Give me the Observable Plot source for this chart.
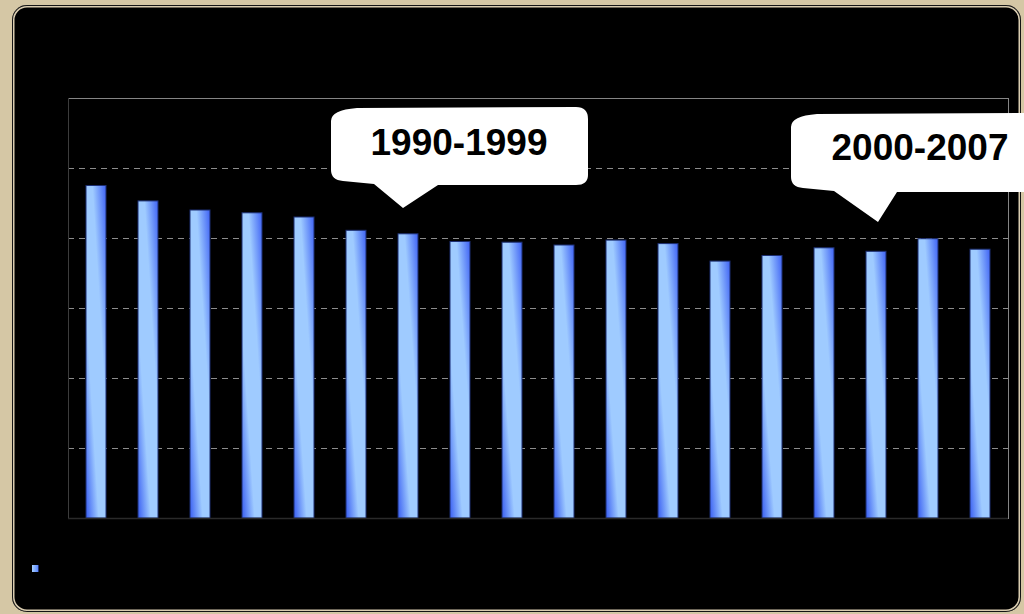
<!DOCTYPE html>
<html><head><meta charset="utf-8">
<script src="https://cdn.jsdelivr.net/npm/d3@7"></script>
<script src="https://cdn.jsdelivr.net/npm/@observablehq/plot@0.6"></script>
<style>
body{margin:0;background:#d5c7a5;width:1024px;height:614px;overflow:hidden;position:relative;font-family:"Liberation Sans",Arial,sans-serif}
#panel{position:absolute;left:12px;top:5px;width:1009px;height:607px;background:#000;border-radius:15px;box-shadow:inset 0 0 0 1px #151515, inset 0 0 0 2.5px #d9ccb0;}
#chart{position:absolute;left:0;top:0}
#legend{position:absolute;left:32px;top:565px;width:6px;height:7px;background:linear-gradient(90deg,#a6d0ff,#5a86ff);border-right:1px solid #1d2f73}
</style></head><body>
<div id="panel"></div><div id="chart"></div><div id="legend"></div>
<script>
const years = [1990,1991,1992,1993,1994,1995,1996,1997,1998,1999,2000,2001,2002,2003,2004,2005,2006,2007];
const values = [47.5,45.3,44.0,43.6,43.0,41.1,40.6,39.5,39.4,39.0,39.7,39.2,36.7,37.5,38.6,38.1,39.9,38.4];
const gridTicks = [10,20,30,40,50];
const calloutLabels = ["1990-1999","2000-2007"];
const calloutYears = [1996,2005];
const calloutValues = [44.3,42.3];

const data = years.map((year,i)=>({year, value: values[i]}));

const plot = Plot.plot({
  width:1024, height:614,
  marginLeft:68, marginRight:16, marginTop:98, marginBottom:96,
  style:{background:"transparent"},
  x:{type:"band", domain:years, paddingInner:0.62, paddingOuter:0.31, axis:null},
  y:{domain:[0,60], axis:null},
  marks:[
    Plot.ruleY(gridTicks,{stroke:"#8c8c8c", strokeDasharray:"6,5", strokeWidth:1}),
    Plot.frame({stroke:"#858585"}),
    Plot.barY(data,{x:"year", y:"value", fill:"url(#barGrad)", stroke:"#1d2f73", strokeWidth:1}),
    Plot.ruleY([0],{stroke:"#2a2a2a", strokeWidth:1.5})
  ]
});
document.getElementById("chart").appendChild(plot);

const svg = d3.select(plot);
svg.insert("defs",":first-child").html(`
  <linearGradient id="barGrad" x1="0" y1="1" x2="1" y2="0">
    <stop offset="0" stop-color="#3a5ff2"/>
    <stop offset="0.32" stop-color="#9fcbff"/>
    <stop offset="0.66" stop-color="#9fcbff"/>
    <stop offset="1" stop-color="#3f63f4"/>
  </linearGradient>`);

const sx = plot.scale("x"), sy = plot.scale("y");
// left edge of frame, darker
svg.append("line")
  .attr("x1",68.5).attr("x2",68.5)
  .attr("y1",sy.apply(60)).attr("y2",sy.apply(0))
  .attr("stroke","#3c3c3c");

// callout shapes (styling offsets relative to pointer tip)
const bubbleShapes = [
  {dx:-5, left:-72, right:185, top:-101, bottom:-23, pL:-29, pR:35, tx:56, ty:-53},
  {dx:2, left:-87, right:205, top:-109, bottom:-30, pL:-44, pR:19, tx:42, ty:-62}
];
function bubblePath(x,y,s){
  const L=x+s.left, R=x+s.right, T=y+s.top, B=y+s.bottom;
  return `M${L},${T+14} Q${L},${T+3} ${L+26},${T+1} L${R-12},${T} Q${R},${T} ${R},${T+12} L${R},${B-10} Q${R},${B} ${R-12},${B} L${x+s.pR},${B} L${x},${y} L${x+s.pL},${B-1} L${L+12},${B-4} Q${L},${B-5} ${L},${B-15} Z`;
}
const g = svg.append("g");
calloutLabels.forEach((label,i)=>{
  const s = bubbleShapes[i];
  const x = sx.apply(calloutYears[i]) + sx.bandwidth/2 + s.dx;
  const y = sy.apply(calloutValues[i]);
  g.append("path").attr("d",bubblePath(x,y,s)).attr("fill","#fff");
  g.append("text").attr("x",x+s.tx).attr("y",y+s.ty)
    .attr("text-anchor","middle")
    .attr("font-family","'Liberation Sans', Arial, sans-serif")
    .attr("font-weight","bold").attr("font-size",37)
    .attr("fill","#000").text(label);
});
</script>
</body></html>
